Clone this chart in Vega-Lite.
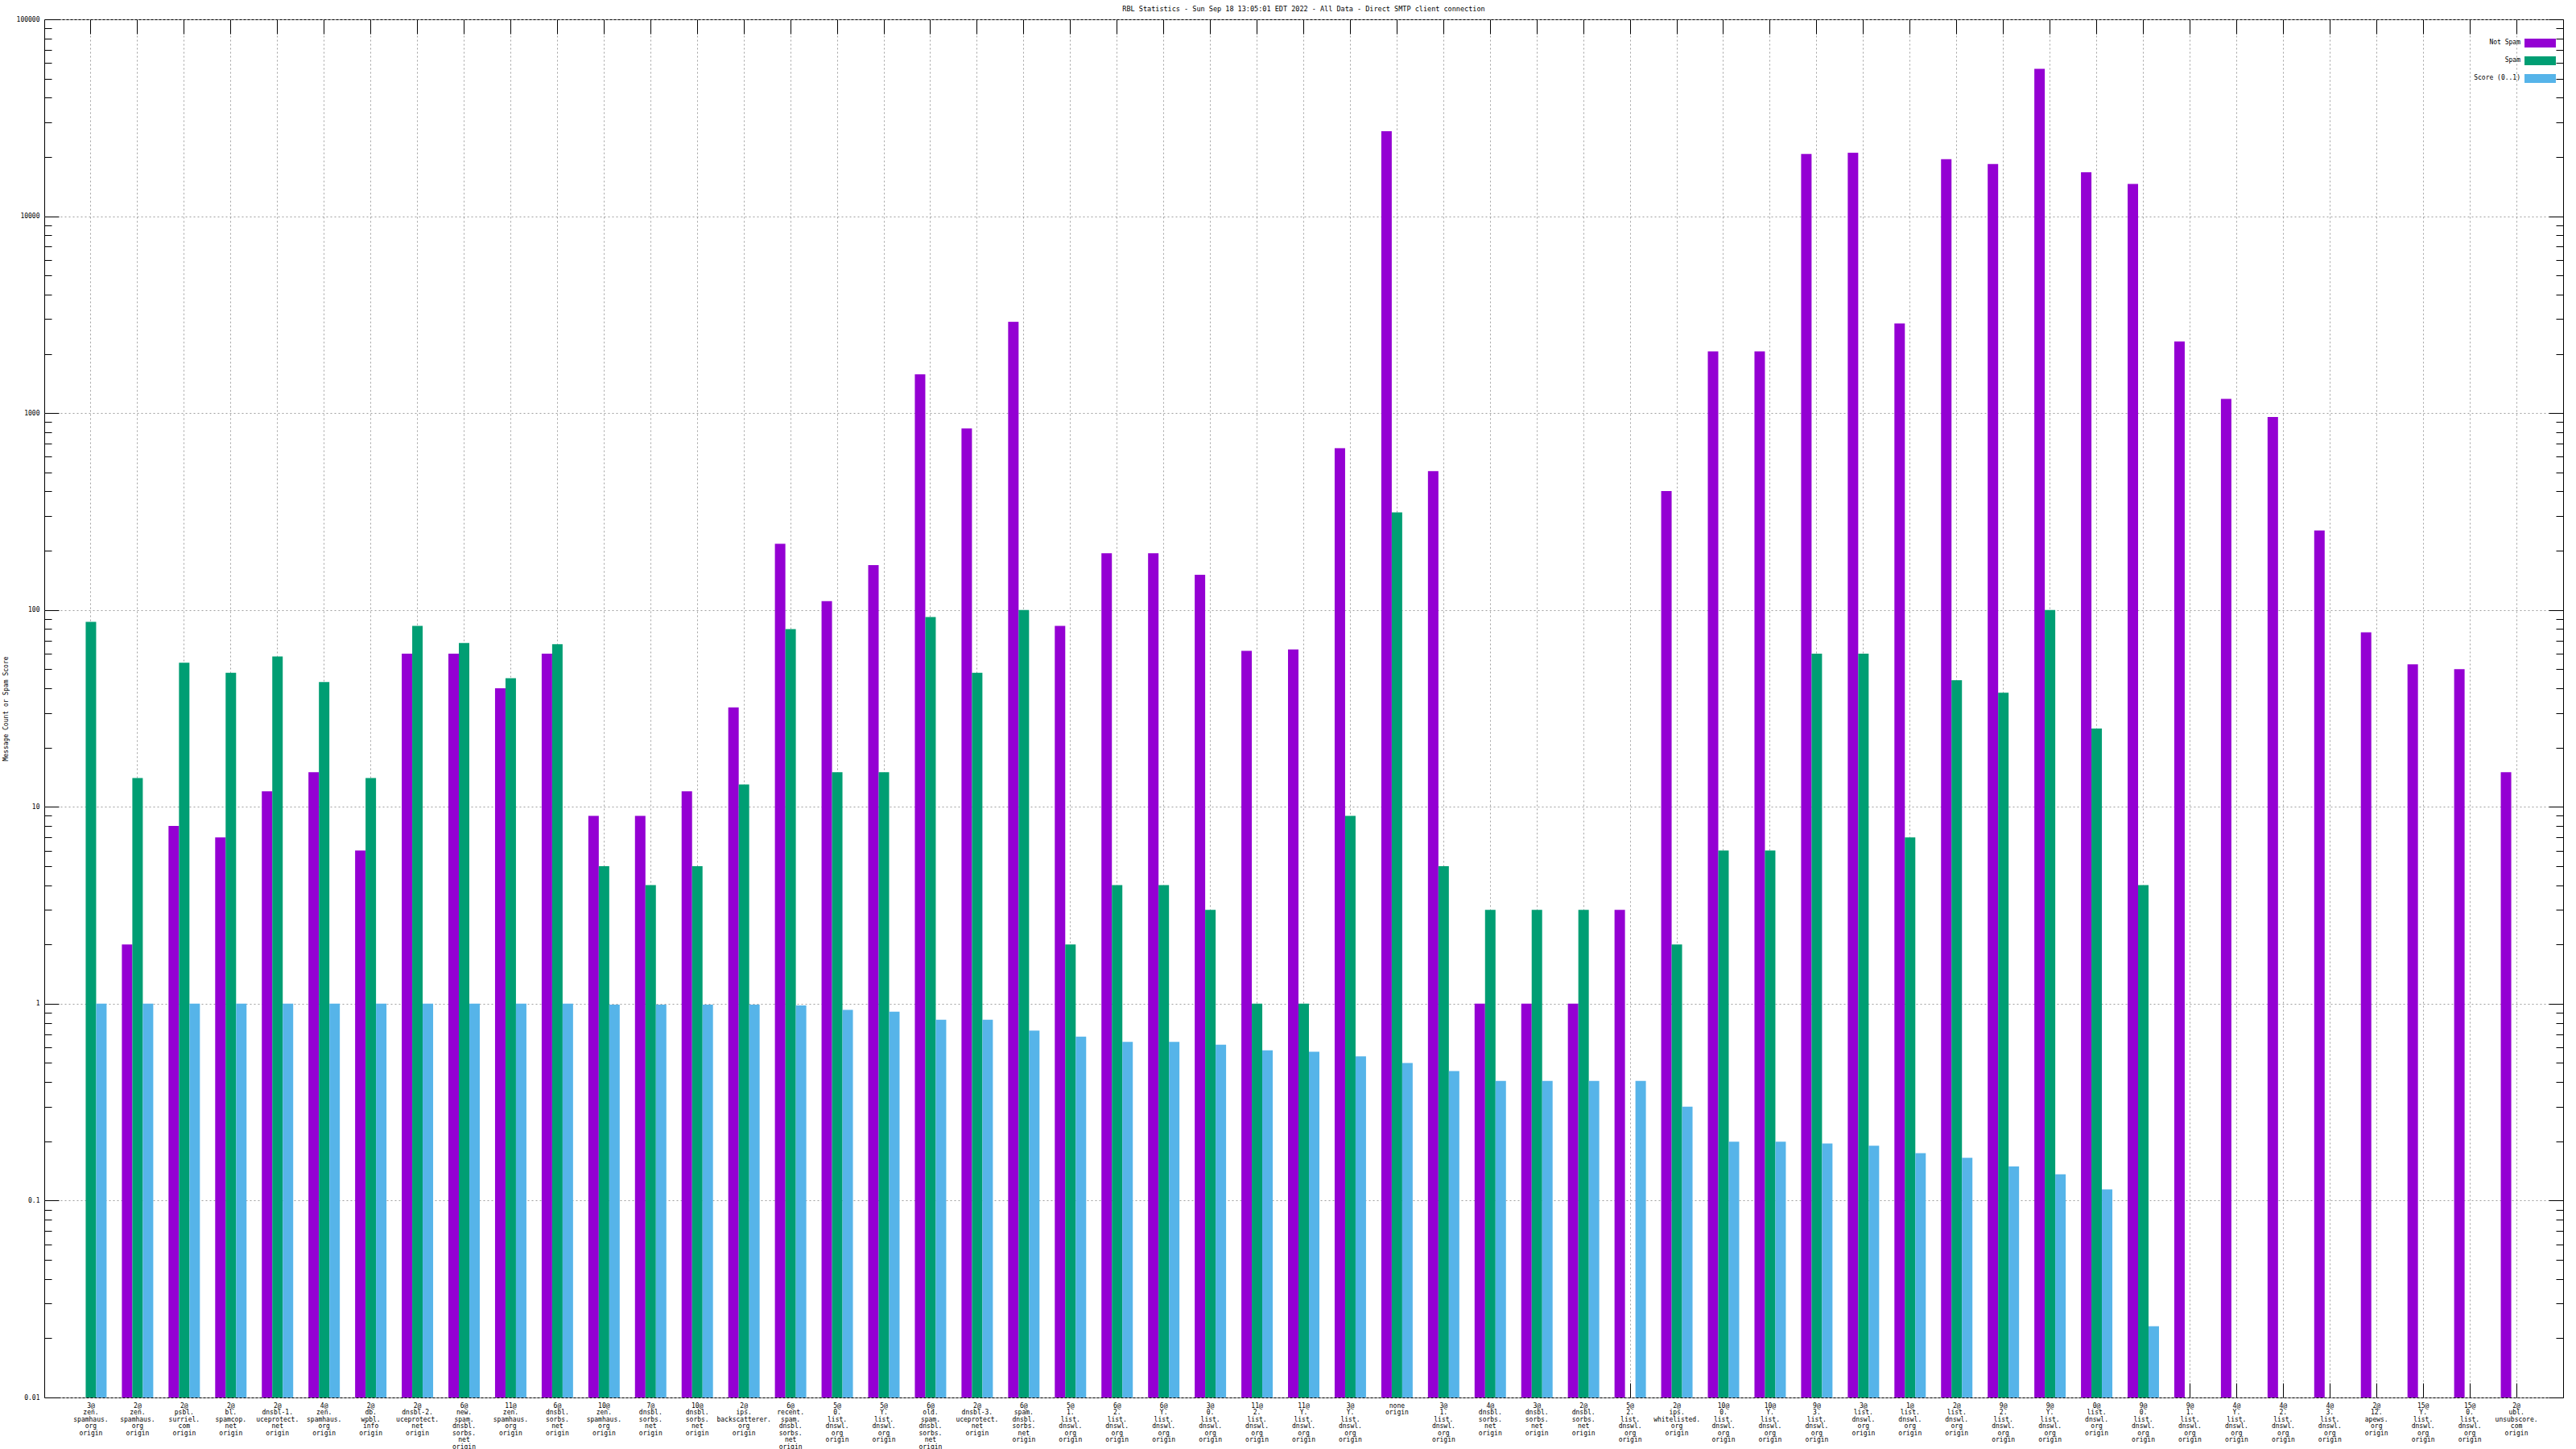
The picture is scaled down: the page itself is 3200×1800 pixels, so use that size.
{
  "$schema": "https://vega.github.io/schema/vega-lite/v6.json",
  "width": 3129,
  "height": 1712,
  "autosize": {"type": "none"},
  "padding": {"left": 55, "top": 24, "right": 16, "bottom": 64},
  "background": "white",
  "config": {"view": {"stroke": "#000", "strokeWidth": 1}, "font": "DejaVu Sans Mono"},
  "title": {"text": "RBL Statistics - Sun Sep 18 13:05:01 EDT 2022 - All Data - Direct SMTP client connection", "font": "DejaVu Sans Mono", "fontSize": 8.5, "fontWeight": "normal", "color": "#000", "anchor": "middle", "offset": 5},
  "data": {"values": [
    {"g": "3@|zen.|spamhaus.|org|origin", "s": "Spam", "v": 87},
    {"g": "3@|zen.|spamhaus.|org|origin", "s": "Score (0..1)", "v": 1},
    {"g": "2@|zen.|spamhaus.|org|origin", "s": "Not Spam", "v": 2},
    {"g": "2@|zen.|spamhaus.|org|origin", "s": "Spam", "v": 14},
    {"g": "2@|zen.|spamhaus.|org|origin", "s": "Score (0..1)", "v": 1},
    {"g": "2@|psbl.|surriel.|com|origin", "s": "Not Spam", "v": 8},
    {"g": "2@|psbl.|surriel.|com|origin", "s": "Spam", "v": 54},
    {"g": "2@|psbl.|surriel.|com|origin", "s": "Score (0..1)", "v": 1},
    {"g": "2@|bl.|spamcop.|net|origin", "s": "Not Spam", "v": 7},
    {"g": "2@|bl.|spamcop.|net|origin", "s": "Spam", "v": 48},
    {"g": "2@|bl.|spamcop.|net|origin", "s": "Score (0..1)", "v": 1},
    {"g": "2@|dnsbl-1.|uceprotect.|net|origin", "s": "Not Spam", "v": 12},
    {"g": "2@|dnsbl-1.|uceprotect.|net|origin", "s": "Spam", "v": 58},
    {"g": "2@|dnsbl-1.|uceprotect.|net|origin", "s": "Score (0..1)", "v": 1},
    {"g": "4@|zen.|spamhaus.|org|origin", "s": "Not Spam", "v": 15},
    {"g": "4@|zen.|spamhaus.|org|origin", "s": "Spam", "v": 43},
    {"g": "4@|zen.|spamhaus.|org|origin", "s": "Score (0..1)", "v": 1},
    {"g": "2@|db.|wpbl.|info|origin", "s": "Not Spam", "v": 6},
    {"g": "2@|db.|wpbl.|info|origin", "s": "Spam", "v": 14},
    {"g": "2@|db.|wpbl.|info|origin", "s": "Score (0..1)", "v": 1},
    {"g": "2@|dnsbl-2.|uceprotect.|net|origin", "s": "Not Spam", "v": 60},
    {"g": "2@|dnsbl-2.|uceprotect.|net|origin", "s": "Spam", "v": 83},
    {"g": "2@|dnsbl-2.|uceprotect.|net|origin", "s": "Score (0..1)", "v": 1},
    {"g": "6@|new.|spam.|dnsbl.|sorbs.|net|origin", "s": "Not Spam", "v": 60},
    {"g": "6@|new.|spam.|dnsbl.|sorbs.|net|origin", "s": "Spam", "v": 68},
    {"g": "6@|new.|spam.|dnsbl.|sorbs.|net|origin", "s": "Score (0..1)", "v": 1},
    {"g": "11@|zen.|spamhaus.|org|origin", "s": "Not Spam", "v": 40},
    {"g": "11@|zen.|spamhaus.|org|origin", "s": "Spam", "v": 45},
    {"g": "11@|zen.|spamhaus.|org|origin", "s": "Score (0..1)", "v": 1},
    {"g": "6@|dnsbl.|sorbs.|net|origin", "s": "Not Spam", "v": 60},
    {"g": "6@|dnsbl.|sorbs.|net|origin", "s": "Spam", "v": 67},
    {"g": "6@|dnsbl.|sorbs.|net|origin", "s": "Score (0..1)", "v": 1},
    {"g": "10@|zen.|spamhaus.|org|origin", "s": "Not Spam", "v": 9},
    {"g": "10@|zen.|spamhaus.|org|origin", "s": "Spam", "v": 5},
    {"g": "10@|zen.|spamhaus.|org|origin", "s": "Score (0..1)", "v": 0.99},
    {"g": "7@|dnsbl.|sorbs.|net|origin", "s": "Not Spam", "v": 9},
    {"g": "7@|dnsbl.|sorbs.|net|origin", "s": "Spam", "v": 4},
    {"g": "7@|dnsbl.|sorbs.|net|origin", "s": "Score (0..1)", "v": 0.99},
    {"g": "10@|dnsbl.|sorbs.|net|origin", "s": "Not Spam", "v": 12},
    {"g": "10@|dnsbl.|sorbs.|net|origin", "s": "Spam", "v": 5},
    {"g": "10@|dnsbl.|sorbs.|net|origin", "s": "Score (0..1)", "v": 0.99},
    {"g": "2@|ips.|backscatterer.|org|origin", "s": "Not Spam", "v": 32},
    {"g": "2@|ips.|backscatterer.|org|origin", "s": "Spam", "v": 13},
    {"g": "2@|ips.|backscatterer.|org|origin", "s": "Score (0..1)", "v": 0.99},
    {"g": "6@|recent.|spam.|dnsbl.|sorbs.|net|origin", "s": "Not Spam", "v": 217},
    {"g": "6@|recent.|spam.|dnsbl.|sorbs.|net|origin", "s": "Spam", "v": 80},
    {"g": "6@|recent.|spam.|dnsbl.|sorbs.|net|origin", "s": "Score (0..1)", "v": 0.98},
    {"g": "5@|0.|list.|dnswl.|org|origin", "s": "Not Spam", "v": 111},
    {"g": "5@|0.|list.|dnswl.|org|origin", "s": "Spam", "v": 15},
    {"g": "5@|0.|list.|dnswl.|org|origin", "s": "Score (0..1)", "v": 0.93},
    {"g": "5@|Y.|list.|dnswl.|org|origin", "s": "Not Spam", "v": 169},
    {"g": "5@|Y.|list.|dnswl.|org|origin", "s": "Spam", "v": 15},
    {"g": "5@|Y.|list.|dnswl.|org|origin", "s": "Score (0..1)", "v": 0.91},
    {"g": "6@|old.|spam.|dnsbl.|sorbs.|net|origin", "s": "Not Spam", "v": 1574},
    {"g": "6@|old.|spam.|dnsbl.|sorbs.|net|origin", "s": "Spam", "v": 92},
    {"g": "6@|old.|spam.|dnsbl.|sorbs.|net|origin", "s": "Score (0..1)", "v": 0.83},
    {"g": "2@|dnsbl-3.|uceprotect.|net|origin", "s": "Not Spam", "v": 835},
    {"g": "2@|dnsbl-3.|uceprotect.|net|origin", "s": "Spam", "v": 48},
    {"g": "2@|dnsbl-3.|uceprotect.|net|origin", "s": "Score (0..1)", "v": 0.83},
    {"g": "6@|spam.|dnsbl.|sorbs.|net|origin", "s": "Not Spam", "v": 2911},
    {"g": "6@|spam.|dnsbl.|sorbs.|net|origin", "s": "Spam", "v": 100},
    {"g": "6@|spam.|dnsbl.|sorbs.|net|origin", "s": "Score (0..1)", "v": 0.73},
    {"g": "5@|1.|list.|dnswl.|org|origin", "s": "Not Spam", "v": 83},
    {"g": "5@|1.|list.|dnswl.|org|origin", "s": "Spam", "v": 2},
    {"g": "5@|1.|list.|dnswl.|org|origin", "s": "Score (0..1)", "v": 0.68},
    {"g": "6@|2.|list.|dnswl.|org|origin", "s": "Not Spam", "v": 194},
    {"g": "6@|2.|list.|dnswl.|org|origin", "s": "Spam", "v": 4},
    {"g": "6@|2.|list.|dnswl.|org|origin", "s": "Score (0..1)", "v": 0.64},
    {"g": "6@|Y.|list.|dnswl.|org|origin", "s": "Not Spam", "v": 194},
    {"g": "6@|Y.|list.|dnswl.|org|origin", "s": "Spam", "v": 4},
    {"g": "6@|Y.|list.|dnswl.|org|origin", "s": "Score (0..1)", "v": 0.64},
    {"g": "3@|0.|list.|dnswl.|org|origin", "s": "Not Spam", "v": 151},
    {"g": "3@|0.|list.|dnswl.|org|origin", "s": "Spam", "v": 3},
    {"g": "3@|0.|list.|dnswl.|org|origin", "s": "Score (0..1)", "v": 0.62},
    {"g": "11@|2.|list.|dnswl.|org|origin", "s": "Not Spam", "v": 62},
    {"g": "11@|2.|list.|dnswl.|org|origin", "s": "Spam", "v": 1},
    {"g": "11@|2.|list.|dnswl.|org|origin", "s": "Score (0..1)", "v": 0.58},
    {"g": "11@|Y.|list.|dnswl.|org|origin", "s": "Not Spam", "v": 63},
    {"g": "11@|Y.|list.|dnswl.|org|origin", "s": "Spam", "v": 1},
    {"g": "11@|Y.|list.|dnswl.|org|origin", "s": "Score (0..1)", "v": 0.57},
    {"g": "3@|Y.|list.|dnswl.|org|origin", "s": "Not Spam", "v": 663},
    {"g": "3@|Y.|list.|dnswl.|org|origin", "s": "Spam", "v": 9},
    {"g": "3@|Y.|list.|dnswl.|org|origin", "s": "Score (0..1)", "v": 0.54},
    {"g": "none|origin", "s": "Not Spam", "v": 27000},
    {"g": "none|origin", "s": "Spam", "v": 313},
    {"g": "none|origin", "s": "Score (0..1)", "v": 0.5},
    {"g": "3@|1.|list.|dnswl.|org|origin", "s": "Not Spam", "v": 507},
    {"g": "3@|1.|list.|dnswl.|org|origin", "s": "Spam", "v": 5},
    {"g": "3@|1.|list.|dnswl.|org|origin", "s": "Score (0..1)", "v": 0.455},
    {"g": "4@|dnsbl.|sorbs.|net|origin", "s": "Not Spam", "v": 1},
    {"g": "4@|dnsbl.|sorbs.|net|origin", "s": "Spam", "v": 3},
    {"g": "4@|dnsbl.|sorbs.|net|origin", "s": "Score (0..1)", "v": 0.405},
    {"g": "3@|dnsbl.|sorbs.|net|origin", "s": "Not Spam", "v": 1},
    {"g": "3@|dnsbl.|sorbs.|net|origin", "s": "Spam", "v": 3},
    {"g": "3@|dnsbl.|sorbs.|net|origin", "s": "Score (0..1)", "v": 0.405},
    {"g": "2@|dnsbl.|sorbs.|net|origin", "s": "Not Spam", "v": 1},
    {"g": "2@|dnsbl.|sorbs.|net|origin", "s": "Spam", "v": 3},
    {"g": "2@|dnsbl.|sorbs.|net|origin", "s": "Score (0..1)", "v": 0.405},
    {"g": "5@|2.|list.|dnswl.|org|origin", "s": "Not Spam", "v": 3},
    {"g": "5@|2.|list.|dnswl.|org|origin", "s": "Score (0..1)", "v": 0.405},
    {"g": "2@|ips.|whitelisted.|org|origin", "s": "Not Spam", "v": 402},
    {"g": "2@|ips.|whitelisted.|org|origin", "s": "Spam", "v": 2},
    {"g": "2@|ips.|whitelisted.|org|origin", "s": "Score (0..1)", "v": 0.3},
    {"g": "10@|0.|list.|dnswl.|org|origin", "s": "Not Spam", "v": 2060},
    {"g": "10@|0.|list.|dnswl.|org|origin", "s": "Spam", "v": 6},
    {"g": "10@|0.|list.|dnswl.|org|origin", "s": "Score (0..1)", "v": 0.199},
    {"g": "10@|Y.|list.|dnswl.|org|origin", "s": "Not Spam", "v": 2060},
    {"g": "10@|Y.|list.|dnswl.|org|origin", "s": "Spam", "v": 6},
    {"g": "10@|Y.|list.|dnswl.|org|origin", "s": "Score (0..1)", "v": 0.199},
    {"g": "9@|3.|list.|dnswl.|org|origin", "s": "Not Spam", "v": 20700},
    {"g": "9@|3.|list.|dnswl.|org|origin", "s": "Spam", "v": 60},
    {"g": "9@|3.|list.|dnswl.|org|origin", "s": "Score (0..1)", "v": 0.195},
    {"g": "3@|list.|dnswl.|org|origin", "s": "Not Spam", "v": 21000},
    {"g": "3@|list.|dnswl.|org|origin", "s": "Spam", "v": 60},
    {"g": "3@|list.|dnswl.|org|origin", "s": "Score (0..1)", "v": 0.19},
    {"g": "1@|list.|dnswl.|org|origin", "s": "Not Spam", "v": 2855},
    {"g": "1@|list.|dnswl.|org|origin", "s": "Spam", "v": 7},
    {"g": "1@|list.|dnswl.|org|origin", "s": "Score (0..1)", "v": 0.174},
    {"g": "2@|list.|dnswl.|org|origin", "s": "Not Spam", "v": 19500},
    {"g": "2@|list.|dnswl.|org|origin", "s": "Spam", "v": 44},
    {"g": "2@|list.|dnswl.|org|origin", "s": "Score (0..1)", "v": 0.165},
    {"g": "9@|2.|list.|dnswl.|org|origin", "s": "Not Spam", "v": 18400},
    {"g": "9@|2.|list.|dnswl.|org|origin", "s": "Spam", "v": 38},
    {"g": "9@|2.|list.|dnswl.|org|origin", "s": "Score (0..1)", "v": 0.149},
    {"g": "9@|Y.|list.|dnswl.|org|origin", "s": "Not Spam", "v": 56000},
    {"g": "9@|Y.|list.|dnswl.|org|origin", "s": "Spam", "v": 100},
    {"g": "9@|Y.|list.|dnswl.|org|origin", "s": "Score (0..1)", "v": 0.136},
    {"g": "0@|list.|dnswl.|org|origin", "s": "Not Spam", "v": 16700},
    {"g": "0@|list.|dnswl.|org|origin", "s": "Spam", "v": 25},
    {"g": "0@|list.|dnswl.|org|origin", "s": "Score (0..1)", "v": 0.114},
    {"g": "9@|0.|list.|dnswl.|org|origin", "s": "Not Spam", "v": 14600},
    {"g": "9@|0.|list.|dnswl.|org|origin", "s": "Spam", "v": 4},
    {"g": "9@|0.|list.|dnswl.|org|origin", "s": "Score (0..1)", "v": 0.023},
    {"g": "9@|1.|list.|dnswl.|org|origin", "s": "Not Spam", "v": 2310},
    {"g": "4@|Y.|list.|dnswl.|org|origin", "s": "Not Spam", "v": 1180},
    {"g": "4@|2.|list.|dnswl.|org|origin", "s": "Not Spam", "v": 955},
    {"g": "4@|3.|list.|dnswl.|org|origin", "s": "Not Spam", "v": 253},
    {"g": "2@|12.|apews.|org|origin", "s": "Not Spam", "v": 77},
    {"g": "15@|Y.|list.|dnswl.|org|origin", "s": "Not Spam", "v": 53},
    {"g": "15@|0.|list.|dnswl.|org|origin", "s": "Not Spam", "v": 50},
    {"g": "2@|ubl.|unsubscore.|com|origin", "s": "Not Spam", "v": 15}
  ]},
  "layer": [
    {
      "mark": {"type": "bar"},
      "encoding": {
        "x": {"field": "g", "type": "nominal", "sort": null,
          "scale": {"paddingInner": 0, "paddingOuter": 0.5},
          "axis": {"orient": "bottom", "title": null, "labelExpr": "split(datum.value, '|')", "labelAngle": 0, "labelAlign": "center", "labelBaseline": "top", "labelFont": "DejaVu Sans Mono", "labelFontSize": 8, "labelLineHeight": 8.5, "labelColor": "#000", "labelPadding": 24, "tickSize": -18, "tickColor": "#000", "tickWidth": 1, "grid": true, "gridColor": "#a0a0a0", "gridDash": [2, 3], "gridWidth": 1, "domain": false, "labelOverlap": false, "labelLimit": 0, "labelBound": false}},
        "xOffset": {"field": "s", "type": "nominal", "sort": ["Not Spam", "Spam", "Score (0..1)"], "scale": {"domain": ["Not Spam", "Spam", "Score (0..1)"], "paddingInner": 0, "paddingOuter": 0.73}},
        "y": {"field": "v", "type": "quantitative", "scale": {"type": "log", "domain": [0.01, 100000], "nice": false},
          "axis": {"orient": "left",
            "values": [0.01,0.02,0.03,0.04,0.05,0.06,0.07,0.08,0.09,0.1,0.2,0.3,0.4,0.5,0.6,0.7,0.8,0.9,1,2,3,4,5,6,7,8,9,10,20,30,40,50,60,70,80,90,100,200,300,400,500,600,700,800,900,1000,2000,3000,4000,5000,6000,7000,8000,9000,10000,20000,30000,40000,50000,60000,70000,80000,90000,100000],
            "format": "~g",
            "labelExpr": "abs(log(datum.value)/LN10 - round(log(datum.value)/LN10)) < 0.01 ? datum.label : ''",
            "tickSize": {"condition": {"test": "abs(log(datum.value)/LN10 - round(log(datum.value)/LN10)) < 0.01", "value": -18}, "value": -9},
            "gridOpacity": {"condition": {"test": "abs(log(datum.value)/LN10 - round(log(datum.value)/LN10)) < 0.01", "value": 1}, "value": 0},
            "grid": true, "gridColor": "#a0a0a0", "gridDash": [2, 3], "gridWidth": 1,
            "tickColor": "#000", "tickWidth": 1,
            "labelPadding": 24, "labelFont": "DejaVu Sans Mono", "labelFontSize": 8, "labelColor": "#000",
            "labelOverlap": false, "labelBound": false, "labelFlush": false,
            "domain": false,
            "title": "Message Count or Spam Score", "titleFont": "DejaVu Sans Mono", "titleFontSize": 8, "titleFontWeight": "normal", "titleColor": "#000",
            "titleX": -48, "titleY": 856, "titleAngle": -90, "titleAlign": "center", "titleBaseline": "middle"}},
        "y2": {"datum": 0.01},
        "color": {"field": "s", "type": "nominal",
          "scale": {"domain": ["Not Spam", "Spam", "Score (0..1)"], "range": ["#9400d3", "#009e73", "#56b4e9"]},
          "legend": {"orient": "none", "legendX": 3089.5, "legendY": 18.4, "title": null, "symbolType": "M-1.77,-0.5H1.77V0.5H-1.77Z", "symbolSize": 484, "symbolStrokeWidth": 0, "symbolOpacity": 1, "labelAlign": "right", "labelOffset": -35.5, "labelFont": "DejaVu Sans Mono", "labelFontSize": 8, "labelColor": "#000", "rowPadding": 5, "padding": 0}}
      }
    },
    {
      "mark": {"type": "bar", "opacity": 0},
      "encoding": {
        "x": {"field": "g", "type": "nominal", "sort": null,
          "scale": {"paddingInner": 0, "paddingOuter": 0.5},
          "axis": {"orient": "top", "title": null, "labels": false, "tickSize": -18, "tickColor": "#000", "tickWidth": 1, "grid": false, "domain": false}},
        "xOffset": {"field": "s", "type": "nominal", "sort": ["Not Spam", "Spam", "Score (0..1)"], "scale": {"domain": ["Not Spam", "Spam", "Score (0..1)"], "paddingInner": 0, "paddingOuter": 0.73}},
        "y": {"field": "v", "type": "quantitative", "scale": {"type": "log", "domain": [0.01, 100000], "nice": false},
          "axis": {"orient": "right",
            "values": [0.01,0.02,0.03,0.04,0.05,0.06,0.07,0.08,0.09,0.1,0.2,0.3,0.4,0.5,0.6,0.7,0.8,0.9,1,2,3,4,5,6,7,8,9,10,20,30,40,50,60,70,80,90,100,200,300,400,500,600,700,800,900,1000,2000,3000,4000,5000,6000,7000,8000,9000,10000,20000,30000,40000,50000,60000,70000,80000,90000,100000],
            "labels": false, "title": null, "grid": false, "domain": false,
            "tickSize": {"condition": {"test": "abs(log(datum.value)/LN10 - round(log(datum.value)/LN10)) < 0.01", "value": -18}, "value": -9},
            "tickColor": "#000", "tickWidth": 1}},
        "y2": {"datum": 0.01}
      }
    }
  ],
  "resolve": {"axis": {"x": "independent", "y": "independent"}}
}
